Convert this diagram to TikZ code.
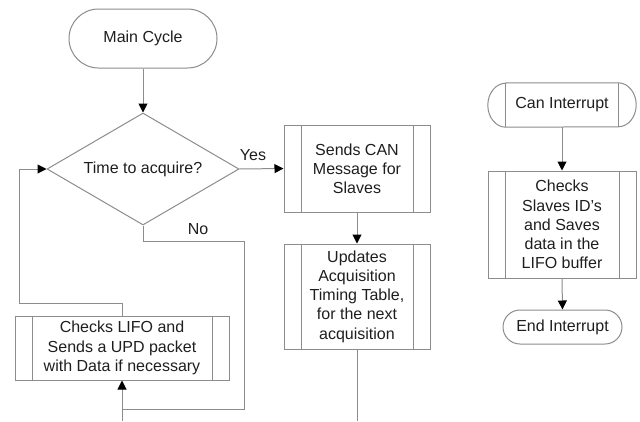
\documentclass[tikz,border=0pt]{standalone}
\usepackage{fontspec}
\setmainfont{Liberation Sans}
\usetikzlibrary{shapes.geometric,arrows.meta}
\definecolor{lncol}{RGB}{140,140,140}
\definecolor{txtcol}{RGB}{30,30,30}
\tikzset{
  base/.style={font=\fontsize{16}{19.2}\selectfont, text=txtcol, align=center, inner sep=0pt},
  term/.style={base, draw=lncol, line width=1pt, rectangle, rounded corners=#1},
  procbox/.style={base, draw=lncol, line width=1pt, rectangle,
    path picture={
      \draw[lncol, line width=1pt] ([xshift=17pt]path picture bounding box.north west) -- ([xshift=17pt]path picture bounding box.south west);
      \draw[lncol, line width=1pt] ([xshift=-17pt]path picture bounding box.north east) -- ([xshift=-17pt]path picture bounding box.south east);
    }},
  decis/.style={base, draw=lncol, line width=1pt, diamond, aspect=1.7},
  conn/.style={draw=lncol, line width=1pt},
  arr/.style={conn, -{Triangle[length=9pt,width=9pt,color=black]}},
  lbl/.style={base}
}
\begin{document}
\begin{tikzpicture}[x=1pt,y=-1pt]
\useasboundingbox (0,0) rectangle (640,421);
% main cycle
\node[term=29.5pt, minimum width=148pt, minimum height=59pt] (main) at (143,38.5) {Main Cycle};
\node[decis, minimum width=192pt, minimum height=112pt] (dec) at (143,169) {Time to acquire?};
\node[procbox, minimum width=146pt, minimum height=87pt] (sends) at (357,168.5) {Sends CAN\\Message for\\Slaves};
\node[procbox, minimum width=146pt, minimum height=105pt] (upd) at (357,296.5) {Updates\\Acquisition\\Timing Table,\\for the next\\acquisition};
\node[procbox, minimum width=214pt, minimum height=64pt] (chk) at (122,348) {Checks LIFO and\\Sends a UPD packet\\with Data if necessary};
\node[lbl] (yes) at (253,155) {Yes};
\node[lbl] (no) at (198,229) {No};
% interrupt
\node[base, minimum width=112pt, minimum height=44pt] (can) at (562,105) {Can Interrupt};
\draw[lncol, line width=1pt] (can.north west) -- (can.north east)
  arc[start angle=90, end angle=-90, x radius=18pt, y radius=22pt] -- (can.south west)
  arc[start angle=270, end angle=90, x radius=18pt, y radius=22pt] -- cycle;
\draw[lncol, line width=1pt] (can.north west) -- (can.south west);
\draw[lncol, line width=1pt] (can.north east) -- (can.south east);
\node[procbox, minimum width=148pt, minimum height=107pt] (slv) at (562,224.5) {Checks\\Slaves ID’s\\and Saves\\data in the\\LIFO buffer};
\node[term=17pt, minimum width=119pt, minimum height=34pt] (endi) at (562.5,327) {End Interrupt};
% coordinates
\coordinate (n1) at (143,241);
\coordinate (n2) at (244,241);
\coordinate (n3) at (244,409);
\coordinate (n4) at (122,409);
\coordinate (b1) at (122,421);
\coordinate (b2) at (357,421);
\coordinate (l1) at (122,303);
\coordinate (l2) at (19,303);
\coordinate (l3) at (19,169);
% connectors
\draw[arr] (main.south) -- (dec.north);
\draw[arr] (dec.east) -- (sends.west);
\draw[arr] (sends.south) -- (upd.north);
\draw[conn] (dec.south) -- (n1) -- (n2) -- (n3) -- (n4);
\draw[arr] (b1) -- (chk.south);
\draw[conn] (upd.south) -- (b2);
\draw[arr] (chk.north) -- (l1) -- (l2) -- (l3) -- (dec.west);
\draw[arr] (can.south) -- (slv.north);
\draw[arr] (slv.south) -- (endi.north);
\end{tikzpicture}
\end{document}
